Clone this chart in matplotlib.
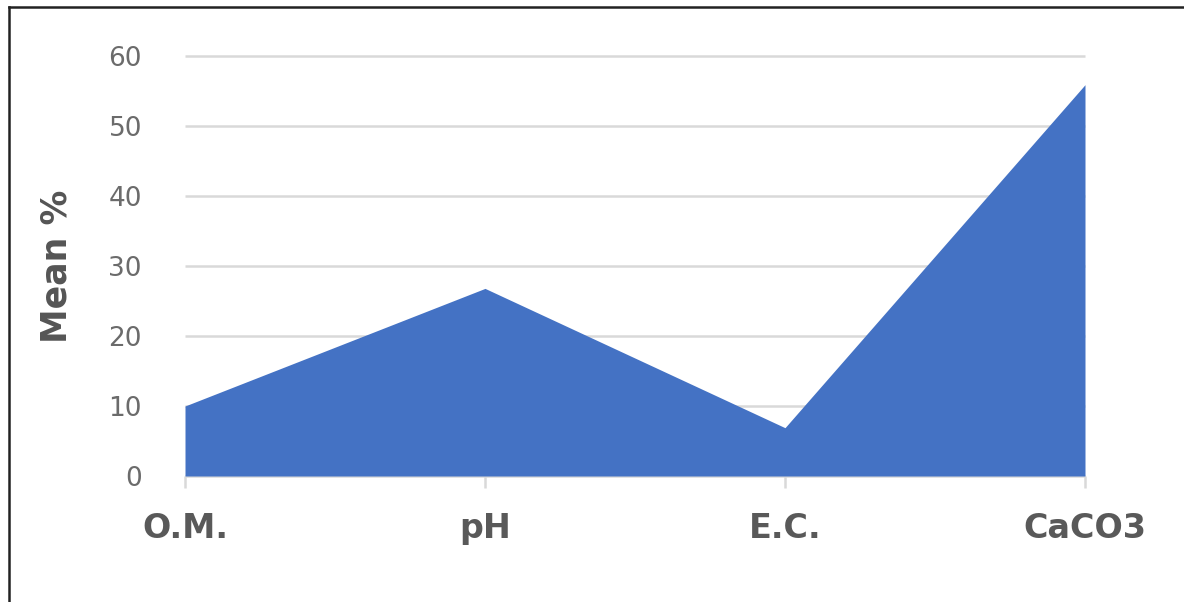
import matplotlib.pyplot as plt
from matplotlib.lines import Line2D

# Mean values per soil property
categories = ["O.M.", "pH", "E.C.", "CaCO3"]
mean_pct = [10.0, 26.8, 6.9, 55.9]
y_ticks = [0, 10, 20, 30, 40, 50, 60]

W, H = 1184, 602
fig = plt.figure(figsize=(W / 100, H / 100), dpi=100)
ax = fig.add_axes([185 / W, (H - 476) / H, 900 / W, 420 / H])

x = list(range(len(categories)))
ax.fill_between(x, mean_pct, 0, color="#4472C4", linewidth=0, zorder=2)

ax.set_xlim(0, len(categories) - 1)
ax.set_ylim(0, 60)
ax.set_yticks(y_ticks)
ax.set_xticks(x)
ax.set_xticklabels(categories, fontfamily="DejaVu Sans", fontweight="bold",
                   fontsize=24, color="#595959")
ax.set_yticklabels([str(v) for v in y_ticks], fontfamily="DejaVu Sans",
                   fontsize=19, color="#6b6b6b")

for v in y_ticks:
    ax.axhline(v, color="#d9d9d9", lw=1.8, zorder=1, clip_on=False,
               solid_capstyle="butt")

for s in ax.spines.values():
    s.set_visible(False)
ax.tick_params(axis="y", length=0, pad=31)
ax.tick_params(axis="x", length=8.6, width=1.8, color="#d9d9d9", pad=17)
for t in ax.xaxis.get_major_ticks():
    t.tick1line.set_clip_on(False)

ax.set_ylabel("Mean %", fontweight="bold", fontsize=25, color="#555555",
              labelpad=25)

# outer frame (left and top edges)
fig.add_artist(Line2D([8.5 / W, 8.5 / W], [0, (H - 6.5) / H], color="#222222", lw=1.8))
fig.add_artist(Line2D([8.5 / W, 1], [(H - 6.5) / H, (H - 6.5) / H], color="#222222", lw=1.8))

fig.savefig("out.png", dpi=100)
